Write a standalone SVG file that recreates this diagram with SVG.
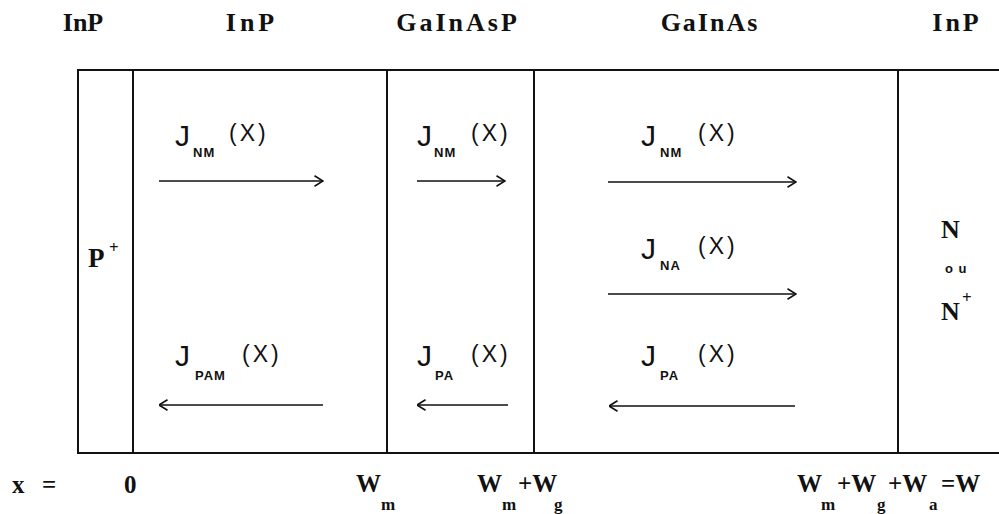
<svg xmlns="http://www.w3.org/2000/svg" width="999" height="514" viewBox="0 0 999 514">
<style>
.ln{stroke:#111;stroke-width:2;fill:none}
.ar{stroke:#111;stroke-width:1.6;fill:none}
.sf{font-family:"Liberation Serif","DejaVu Serif",serif;font-weight:bold;fill:#111}
.top{font-size:26px}
.bt{font-size:25px}
.sb{font-size:17px}
.J{font-family:"Liberation Sans","DejaVu Sans",sans-serif;font-size:30px;fill:#111}
.X{font-family:"Liberation Sans","DejaVu Sans",sans-serif;font-size:23px;fill:#111;letter-spacing:3px}
.s{font-family:"Liberation Sans","DejaVu Sans",sans-serif;font-size:13px;font-weight:bold;fill:#111;letter-spacing:1px}
</style>
<defs>
<marker id="ah" viewBox="0 0 10 12" refX="9.5" refY="6" markerWidth="10" markerHeight="12" markerUnits="userSpaceOnUse" orient="auto">
<path d="M1,0.8 L9.5,6 L1,11.2" stroke="#111" stroke-width="1.6" fill="none"/>
</marker>
</defs>
<g id="labels-top">
<text class="sf top" x="83" y="31" text-anchor="middle">InP</text>
<text class="sf top" x="252" y="31" text-anchor="middle" letter-spacing="4">InP</text>
<text class="sf top" x="458" y="31" text-anchor="middle" letter-spacing="3">GaInAsP</text>
<text class="sf top" x="710" y="31" text-anchor="middle" letter-spacing="2">GaInAs</text>
<text class="sf top" x="957" y="31" text-anchor="middle" letter-spacing="3">InP</text>
</g>
<g id="structure">
<path class="ln" d="M999,70 H78 V453 H999"/>
<line class="ln" x1="133" y1="70" x2="133" y2="453"/>
<line class="ln" x1="387" y1="70" x2="387" y2="453"/>
<line class="ln" x1="534" y1="70" x2="534" y2="453"/>
<line class="ln" x1="898" y1="70" x2="898" y2="453"/>
</g>
<g id="p-plus">
<text class="sf" font-size="27" x="88" y="267">P</text>
<text class="sf sb" x="109" y="253">+</text>
</g>
<g id="n-side">
<text class="sf" font-size="26" x="941" y="238">N</text>
<text class="s" x="945" y="273">o u</text>
<text class="sf" font-size="26" x="941" y="320">N</text>
<text class="sf sb" x="962" y="303">+</text>
</g>
<g id="connectors">
<line class="ar" x1="159" y1="181" x2="323" y2="181" marker-end="url(#ah)"/>
<line class="ar" x1="417" y1="181" x2="505" y2="181" marker-end="url(#ah)"/>
<line class="ar" x1="608" y1="182" x2="796" y2="182" marker-end="url(#ah)"/>
<line class="ar" x1="608" y1="294" x2="796" y2="294" marker-end="url(#ah)"/>
<line class="ar" x1="323" y1="405" x2="159" y2="405" marker-end="url(#ah)"/>
<line class="ar" x1="508" y1="405" x2="417" y2="405" marker-end="url(#ah)"/>
<line class="ar" x1="795" y1="406" x2="609" y2="406" marker-end="url(#ah)"/>
</g>
<g id="j-nm-inp">
<text class="J" x="175" y="146">J</text>
<text class="s" x="193" y="157">NM</text>
<text class="X" x="229" y="141">(X)</text>
</g>
<g id="j-nm-gainasp">
<text class="J" x="417" y="146">J</text>
<text class="s" x="434" y="157">NM</text>
<text class="X" x="471" y="141" letter-spacing="5">(X)</text>
</g>
<g id="j-nm-gainas">
<text class="J" x="641" y="146">J</text>
<text class="s" x="660" y="157" letter-spacing="3">NM</text>
<text class="X" x="698" y="141">(X)</text>
</g>
<g id="j-na-gainas">
<text class="J" x="641" y="259">J</text>
<text class="s" x="660" y="270" letter-spacing="4">NA</text>
<text class="X" x="698" y="254">(X)</text>
</g>
<g id="j-pam-inp">
<text class="J" x="175" y="366">J</text>
<text class="s" x="195" y="380" letter-spacing="2">PAM</text>
<text class="X" x="242" y="362">(X)</text>
</g>
<g id="j-pa-gainasp">
<text class="J" x="417" y="366">J</text>
<text class="s" x="435" y="380" letter-spacing="3">PA</text>
<text class="X" x="471" y="362" letter-spacing="5">(X)</text>
</g>
<g id="j-pa-gainas">
<text class="J" x="641" y="366">J</text>
<text class="s" x="660" y="380" letter-spacing="4">PA</text>
<text class="X" x="698" y="362">(X)</text>
</g>
<g id="labels-bottom">
<text class="sf bt" x="12" y="493">x</text>
<text class="sf bt" x="42" y="493">=</text>
<text class="sf bt" x="124" y="493">0</text>
<text class="sf bt" x="356" y="492">W</text>
<text class="sf sb" x="381" y="510">m</text>
<text class="sf bt" x="477" y="492">W</text>
<text class="sf sb" x="502" y="510">m</text>
<text class="sf bt" x="518" y="492">+W</text>
<text class="sf sb" x="554" y="510">g</text>
<text class="sf bt" x="797" y="492">W</text>
<text class="sf sb" x="821" y="510">m</text>
<text class="sf bt" x="837" y="492">+W</text>
<text class="sf sb" x="877" y="510">g</text>
<text class="sf bt" x="888" y="492">+W</text>
<text class="sf sb" x="929" y="510">a</text>
<text class="sf bt" x="941" y="492">=W</text>
</g>
</svg>
